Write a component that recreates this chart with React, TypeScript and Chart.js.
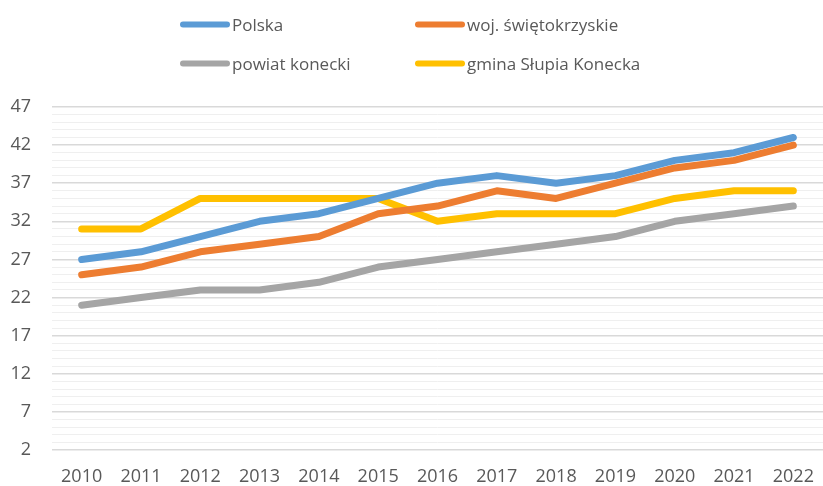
import React, { useEffect, useRef } from "react";
import { Chart, registerables } from "chart.js";
Chart.register(...registerables);

const years = ["2010", "2011", "2012", "2013", "2014", "2015", "2016", "2017", "2018", "2019", "2020", "2021", "2022"];
const polska = [27, 28, 30, 32, 33, 35, 37, 38, 37, 38, 40, 41, 43];
const wojSwietokrzyskie = [25, 26, 28, 29, 30, 33, 34, 36, 35, 37, 39, 40, 42];
const powiatKonecki = [21, 22, 23, 23, 24, 26, 27, 28, 29, 30, 32, 33, 34];
const gminaSlupia = [31, 31, 35, 35, 35, 35, 32, 33, 33, 33, 35, 36, 36];
const seriesNames = ["Polska", "woj. świętokrzyskie", "powiat konecki", "gmina Słupia Konecka"];
const seriesColors = ["#5B9BD5", "#ED7D31", "#A5A5A5", "#FFC000"];
const yMin = 2;
const yMax = 47;
const yLabelStep = 5;

const FONT = "'Open Sans', 'Liberation Sans', sans-serif";
const TEXT = "#595959";

export default function App() {
  const ref = useRef<HTMLCanvasElement>(null);
  useEffect(() => {
    const values = [polska, wojSwietokrzyskie, powiatKonecki, gminaSlupia];
    const chart = new Chart(ref.current!, {
      type: "line",
      data: {
        labels: years,
        datasets: values.map((d, i) => ({
          label: seriesNames[i],
          data: d,
          borderColor: seriesColors[i],
          backgroundColor: seriesColors[i],
          borderWidth: 7,
          pointRadius: 0,
          tension: 0,
          borderCapStyle: "round" as const,
          borderJoinStyle: "round" as const,
        })),
      },
      options: {
        animation: false,
        responsive: false,
        maintainAspectRatio: false,
        layout: { padding: { top: 107, left: 0, right: -4, bottom: 0 } },
        plugins: { legend: { display: false }, tooltip: { enabled: false } },
        scales: {
          x: {
            offset: true,
            grid: { display: false, drawTicks: false },
            border: { display: false },
            ticks: { color: TEXT, font: { family: FONT, size: 18 }, padding: 16, maxRotation: 0, autoSkip: false },
            afterFit: (s: any) => {
              s.height = 36;
              s.paddingLeft = 0;
              s.paddingRight = 0;
            },
          },
          y: {
            min: yMin,
            max: yMax,
            border: { display: false },
            grid: {
              drawTicks: false,
              color: (ctx: any) => ((ctx.tick.value - yMin) % yLabelStep === 0 ? "#d9d9d9" : "#efefef"),
              lineWidth: (ctx: any) => ((ctx.tick.value - yMin) % yLabelStep === 0 ? 1.5 : 1),
            },
            ticks: {
              stepSize: 1,
              autoSkip: false,
              color: TEXT,
              font: { family: FONT, size: 18 },
              padding: 21,
              callback: (v: any) => ((Number(v) - yMin) % yLabelStep === 0 ? String(v) : ""),
            },
            afterFit: (s: any) => {
              s.width = 52;
            },
          },
        },
      },
    });
    return () => chart.destroy();
  }, []);

  const legendPos = [
    { left: 180, top: 24 },
    { left: 415, top: 24 },
    { left: 180, top: 63 },
    { left: 415, top: 63 },
  ];

  return (
    <div style={{ position: "fixed", left: 0, top: 0, width: 823, height: 486, background: "#fff", fontFamily: FONT, overflow: "hidden" }}>
      <canvas ref={ref} width={823} height={486} style={{ position: "absolute", left: 0, top: 0 }} />
      {seriesNames.map((n, i) => (
        <div
          key={n}
          style={{
            position: "absolute",
            left: legendPos[i].left,
            top: legendPos[i].top,
            transform: "translateY(-50%)",
            display: "flex",
            alignItems: "center",
            whiteSpace: "nowrap",
          }}
        >
          <span style={{ display: "inline-block", width: 50, height: 6, borderRadius: 3, background: seriesColors[i] }} />
          <span style={{ marginLeft: 2, fontSize: 17, color: TEXT }}>{n}</span>
        </div>
      ))}
    </div>
  );
}
